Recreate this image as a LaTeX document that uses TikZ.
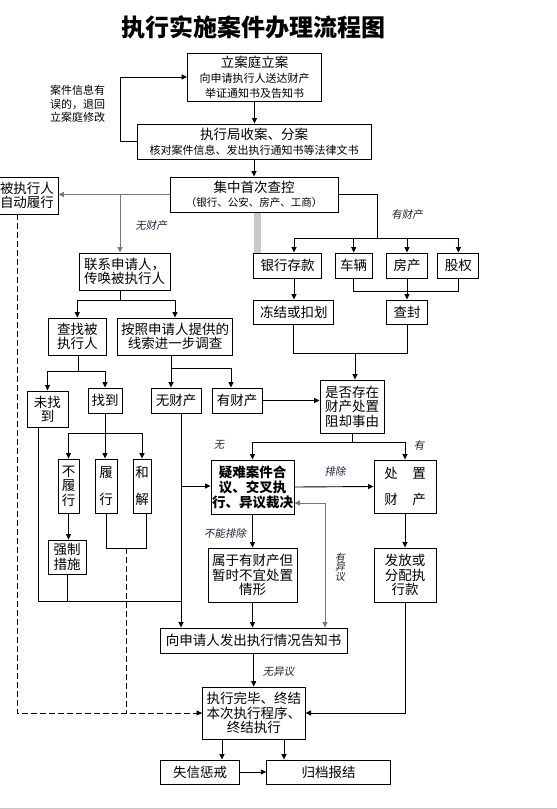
\documentclass[tikz,border=0pt]{standalone}
\usepackage{fontspec}
\setmainfont{Noto Sans CJK SC}
\newfontfamily\lblfont[FakeSlant=0.18]{Noto Sans CJK SC}
\usetikzlibrary{arrows.meta}
\newcommand\fz[2]{\fontsize{#1}{#2}\selectfont}
\definecolor{labcol}{HTML}{22223A}
\definecolor{barcol}{HTML}{C8C8C8}
\definecolor{lgray}{HTML}{777777}
\begin{document}
\begin{tikzpicture}[x=1pt,y=-1pt,
  box/.style={draw, line width=0.9pt, inner sep=0pt, align=center, font=\fz{13.5}{14.5}},
  conn/.style={line width=0.9pt, -{Triangle[length=5.5pt,width=5pt]}},
  ln/.style={line width=0.9pt},
  dashln/.style={line width=0.9pt, dash pattern=on 6pt off 3pt},
  lab/.style={font=\lblfont\fz{10.5}{12}, text=labcol, inner sep=0pt, align=center}]
\useasboundingbox (0,0) rectangle (557,809);
\fill[white] (0,0) rectangle (557,809);
\draw[barcol, line width=1pt] (0,808.5) -- (557,808.5);
\fill[barcol] (254,212) rectangle (261,253);

% title
\node[font=\bfseries\fz{24}{24}] (title) at (253.5,27) {执行实施案件办理流程图};

% boxes
\node[box, minimum width=134pt, minimum height=48pt] (lian) at (254.5,77)
  {立案庭立案\\[1pt]\fz{11}{13}向申请执行人送达财产\\\fz{11}{13}举证通知书及告知书};
\node[box, minimum width=234pt, minimum height=35pt] (zxj) at (254,141.5)
  {执行局收案、分案\\\fz{11}{13}核对案件信息、发出执行通知书等法律文书};
\node[box, minimum width=168pt, minimum height=35pt] (jz) at (254,194.5)
  {集中首次查控\\\fz{10.5}{13}（银行、公安、房产、工商）};
\node[box, minimum width=62pt, minimum height=37pt] (zdlx) at (27,195.5) {被执行人\\自动履行};
\node[box, minimum width=91pt, minimum height=37pt] (lx) at (124.5,271.5) {联系申请人，\\传唤被执行人};
\node[box, minimum width=57.4pt, minimum height=37pt] (cz) at (77.3,336.5) {查找被\\执行人};
\node[box, minimum width=115.5pt, minimum height=37pt] (az) at (175,336.5) {按照申请人提供的\\线索进一步调查};
\node[box, minimum width=41pt, minimum height=36pt] (wzd) at (47.5,409) {未找\\到};
\node[box, minimum width=34pt, minimum height=25pt] (zd) at (105,400.5) {找到};
\node[box, minimum width=50pt, minimum height=25pt] (wcc) at (176,400.5) {无财产};
\node[box, minimum width=50pt, minimum height=25pt] (ycc) at (237,400.5) {有财产};
\node[box, minimum width=64pt, minimum height=53pt] (sf) at (352,406.5) {是否存在\\财产处置\\阻却事由};
\node[box, minimum width=21pt, minimum height=54pt] (blx) at (68.5,486) {不\\履\\行};
\node[box, minimum width=22pt, minimum height=54pt] (lx2) at (106,486) {履\\[12pt]行};
\node[box, minimum width=18pt, minimum height=54pt] (hj) at (142,486) {和\\[12pt]解};
\node[box, minimum width=38pt, minimum height=34pt] (qz) at (67,557) {强制\\措施};
\node[box, minimum width=83pt, minimum height=54pt, font=\bfseries\fz{13.5}{15}] (yn) at (252.5,487)
  {疑难案件合\\议、交叉执\\行、异议裁决};
\node[box, minimum width=62pt, minimum height=53pt] (cz2) at (405,486.5)
  {处\hspace{14.5pt}置\\[12pt]财\hspace{14.5pt}产};
\node[box, minimum width=89pt, minimum height=54pt] (sy) at (252.5,575) {属于有财产但\\暂时不宜处置\\情形};
\node[box, minimum width=62pt, minimum height=54pt] (ff) at (405,575) {发放或\\分配执\\行款};
\node[box, minimum width=186.6pt, minimum height=25pt] (xs) at (253.7,640.5) {向申请人发出执行情况告知书};
\node[box, minimum width=102.5pt, minimum height=52pt] (wb) at (253.8,713) {执行完毕、终结\\本次执行程序、\\终结执行};
\node[box, minimum width=79.6pt, minimum height=24pt] (sx) at (200,772) {失信惩戒};
\node[box, minimum width=124pt, minimum height=24pt] (gd) at (328.7,772) {归档报结};
\node[box, minimum width=68pt, minimum height=25pt] (yh) at (287.5,265.5) {银行存款};
\node[box, minimum width=37.5pt, minimum height=25pt] (cl) at (353.7,265.5) {车辆};
\node[box, minimum width=41pt, minimum height=25pt] (fc) at (407,265.5) {房产};
\node[box, minimum width=41pt, minimum height=25pt] (gq) at (458.4,265.5) {股权};
\node[box, minimum width=80pt, minimum height=24pt] (dj) at (293.8,312) {冻结或扣划};
\node[box, minimum width=41pt, minimum height=24pt] (cf) at (407,312) {查封};

% labels
\node[font=\fz{11}{13.5}, align=center, inner sep=0pt] (note) at (77.5,104) {案件信息有\\误的，退回\\立案庭修改};
\node[lab] (l1) at (151,226) {无财产};
\node[lab] (l2) at (407,215) {有财产};
\node[lab] (l3) at (219,445) {无};
\node[lab] (l4) at (419,445) {有};
\node[lab] (l5) at (335,471) {排除};
\node[lab] (l6) at (225,533) {不能排除};
\node[lab, font=\lblfont\fz{10}{9.5}] (l7) at (340,567) {有\\异\\议};
\node[lab] (l8) at (278.5,672) {无异议};

% coordinates
\coordinate (j1) at (120,194.5);
\coordinate (j2) at (120,300);
\coordinate (j3) at (78,371);
\coordinate (j4) at (171,368);
\coordinate (k231) at (231,368);
\coordinate (j5) at (105,433);
\coordinate (j6) at (126,548);
\coordinate (j6b) at (146,548);
\coordinate (j7) at (17,713);
\coordinate (j8) at (38.6,601);
\coordinate (j9) at (181,486);
\coordinate (j10) at (352,442);
\coordinate (j11) at (325,503);
\coordinate (k1) at (222,750);
\coordinate (k2) at (284,750);
\coordinate (j13) at (377,238);
\coordinate (k294) at (294,238);
\coordinate (j14) at (380,291);
\coordinate (j15) at (355,353);

% top connectors
\draw[conn] (lian.south) -- (lian.south |- zxj.north);
\draw[conn] (zxj.west) -- (zxj.west -| j1) |- (lian.west);
\draw[conn] (zxj.south) -- (zxj.south |- jz.north);
\draw[conn, lgray] (jz.west) -- (jz.west -| zdlx.east);
\draw[conn, lgray] (j1) -- (j1 |- lx.north);
\draw[ln] (j2 |- lx.south) -- (j2);
\draw[conn] (j2) -| (cz.north);
\draw[conn] (j2) -| (az.north);
\draw[ln] (j3 |- cz.south) -- (j3);
\draw[conn] (j3) -| (wzd.north);
\draw[conn] (j3) -| (zd.north);
\draw[ln] (j4 |- az.south) -- (j4);
\draw[conn] (j4) -- (j4 |- wcc.north);
\draw[conn] (j4) -| (k231 |- ycc.north);
\draw[conn] (ycc.east) -- (ycc.east -| sf.west);

% found branch
\draw[conn] (zd.south) -- (zd.south |- lx2.north);
\draw[conn] (j5) -| (blx.north);
\draw[conn] (j5) -| (hj.north);
\draw[conn] (blx.south) -- (blx.south |- qz.north);
\draw[ln] (lx2.south) |- (j6b) -- (j6b |- hj.south);
\draw[dashln] (j6) -- (j6 |- j7);
\draw[dashln, -{Triangle[length=5.5pt,width=5pt]}] (j7 |- zdlx.south) -- (j7) -- (wb.west);
\draw[ln] (j8 |- wzd.south) -- (j8) -- (j8 -| j9);
\draw[ln] (qz.south) -- (qz.south |- j8);
\draw[conn] (j9 |- wcc.south) -- (j9 |- xs.north);
\draw[conn] (j9) -- (j9 -| yn.west);

% right side
\draw[ln] (jz.east) -| (j13);
\draw[ln] (k294) -- (j13 -| gq.north);
\draw[conn] (k294) -- (k294 |- yh.north);
\draw[conn] (j13 -| cl.north) -- (cl.north);
\draw[conn] (j13 -| fc.north) -- (fc.north);
\draw[conn] (j13 -| gq.north) -- (gq.north);
\draw[conn] (k294 |- yh.south) -- (k294 |- dj.north);
\draw[ln] (cl.south) -- (cl.south |- j14) -- (j14 -| gq.south) -- (gq.south);
\draw[conn] (fc.south) -- (cf.north);
\draw[ln] (dj.south) -- (dj.south |- j15) -- (j15 -| cf.south) -- (cf.south);
\draw[conn] (j15) -- (j15 |- sf.north);

\draw[ln] (sf.south) -- (j10);
\draw[conn] (j10) -| (yn.north);
\draw[conn] (j10) -| (cz2.north);
\draw[conn] (yn.east) -- (cz2.west);
\draw[conn] (yn.south) -- (sy.north);
\draw[line width=0.9pt, lgray, {Triangle[length=5.5pt,width=5pt]}-{Triangle[length=5.5pt,width=5pt]}]
  (j11 -| yn.east) -- (j11) -- (j11 |- xs.north);
\draw[conn] (sy.south) -- (sy.south |- xs.north);
\draw[conn] (cz2.south) -- (ff.north);
\draw[conn] (ff.south) |- (wb.east);
\draw[conn] (xs.south) -- (xs.south |- wb.north);
\draw[conn] (k1 |- wb.south) -- (k1 |- sx.north);
\draw[conn] (k2 |- wb.south) -- (k2 |- gd.north);
\draw[conn] (sx.east) -- (gd.west);
\end{tikzpicture}
\end{document}
